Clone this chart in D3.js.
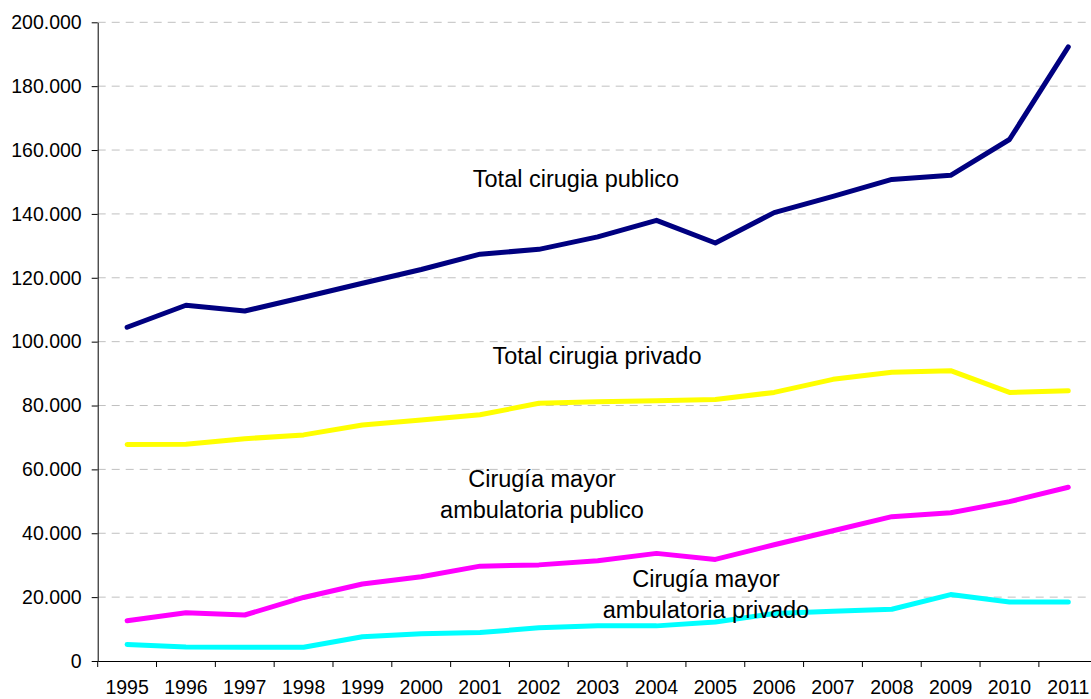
<!DOCTYPE html>
<html>
<head>
<meta charset="utf-8">
<script src="https://cdn.jsdelivr.net/npm/d3@7"></script>
<style>
  body { margin: 0; background: #fff; }
  svg { display: block; font-family: "Liberation Sans", Arial, sans-serif; }
</style>
</head>
<body>
<svg id="chart" width="1091" height="699"></svg>
<script>
const years = ["1995","1996","1997","1998","1999","2000","2001","2002","2003","2004","2005","2006","2007","2008","2009","2010","2011"];
const totalPublico = [104500,111400,109600,113900,118300,122600,127400,128900,132800,138000,130900,140400,145500,150800,152100,163300,192300];
const totalPrivado = [67800,67900,69600,70800,73900,75500,77100,80700,81200,81500,81900,84100,88200,90400,90900,84100,84600];
const cmaPublico = [12600,15100,14400,19900,24100,26400,29700,30100,31400,33700,31800,36400,40800,45200,46400,49900,54400];
const cmaPrivado = [5200,4400,4300,4300,7600,8500,8900,10400,11000,11000,12200,14900,15600,16200,20800,18500,18500];
const yTicks = [0,20000,40000,60000,80000,100000,120000,140000,160000,180000,200000];

const series = [
  { values: cmaPrivado, color: "#00FFFF", label: ["Cirugía mayor", "ambulatoria privado"], lx: 706, ly: 587 },
  { values: cmaPublico, color: "#FF00FF", label: ["Cirugía mayor", "ambulatoria publico"], lx: 542, ly: 487 },
  { values: totalPrivado, color: "#FFFF00", label: ["Total cirugia privado"], lx: 597, ly: 364 },
  { values: totalPublico, color: "#000080", label: ["Total cirugia publico"], lx: 576, ly: 187 }
];

const svg = d3.select("#chart");
const plotLeft = 97.7, plotRight = 1097.7, plotTop = 22.3, plotBottom = 661;

const x = d3.scaleBand().domain(years).range([plotLeft, plotRight]);
const y = d3.scaleLinear().domain([0, 200000]).range([plotBottom, plotTop]);
const fmt = v => v === 0 ? "0" : d3.format(",")(v).replace(/,/g, ".");

// grid lines
svg.append("g")
  .selectAll("line")
  .data(yTicks.filter(d => d > 0))
  .enter().append("line")
  .attr("x1", plotLeft).attr("x2", 1091)
  .attr("y1", d => y(d)).attr("y2", d => y(d))
  .attr("stroke", "#C0C0C0")
  .attr("stroke-width", 1)
  .attr("stroke-dasharray", "8,6");

// y axis
const yAxis = svg.append("g")
  .attr("transform", `translate(${plotLeft},0)`)
  .call(d3.axisLeft(y).tickValues(yTicks).tickFormat(fmt).tickSize(6).tickSizeOuter(0).tickPadding(10));
yAxis.selectAll("text").style("font-size", "19.5px").attr("fill", "#000");
yAxis.selectAll("line, path").attr("stroke", "#000");

// x axis (labels at centers, ticks at band edges)
const xAxis = svg.append("g")
  .attr("transform", `translate(0,${plotBottom})`)
  .call(d3.axisBottom(x).tickSize(0).tickSizeOuter(0).tickPadding(19.5));
xAxis.selectAll("text").style("font-size", "19.5px").attr("fill", "#000");
xAxis.select("path").attr("stroke", "#000");
xAxis.append("g")
  .selectAll("line")
  .data(years.map(d => x(d)).concat([x.range()[1]]))
  .enter().append("line")
  .attr("x1", d => d).attr("x2", d => d)
  .attr("y1", 0).attr("y2", 6)
  .attr("stroke", "#000");

// lines
const line = d3.line()
  .x((d, i) => x(years[i]) + x.bandwidth() / 2)
  .y(d => y(d));

series.forEach(s => {
  svg.append("path")
    .datum(s.values)
    .attr("d", line)
    .attr("fill", "none")
    .attr("stroke", s.color)
    .attr("stroke-width", 5)
    .attr("stroke-linejoin", "round")
    .attr("stroke-linecap", "round");
});

// labels
series.forEach(s => {
  s.label.forEach((t, i) => {
    svg.append("text")
      .attr("x", s.lx)
      .attr("y", s.ly + i * 30.5)
      .attr("text-anchor", "middle")
      .style("font-size", "23.5px")
      .attr("fill", "#000")
      .text(t);
  });
});
</script>
</body>
</html>
